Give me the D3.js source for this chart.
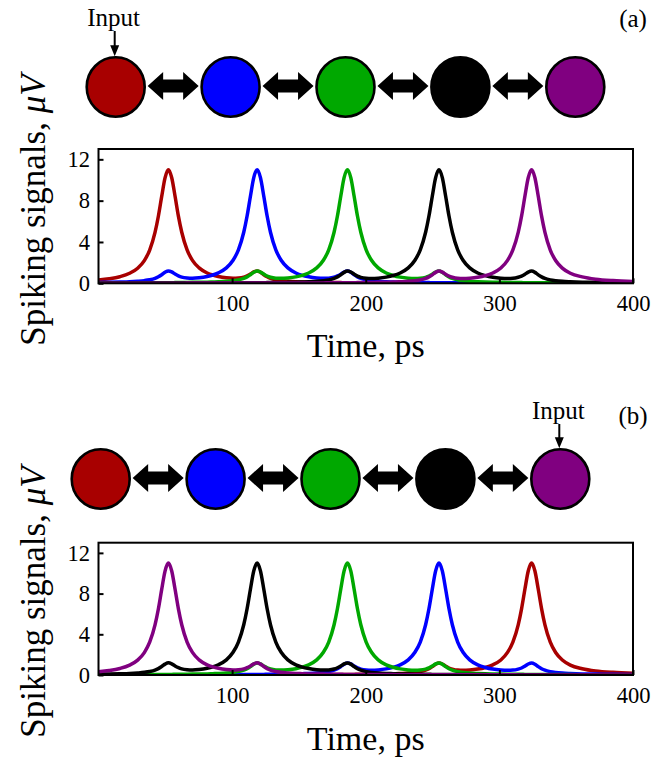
<!DOCTYPE html>
<html>
<head>
<meta charset="utf-8">
<script src="https://cdn.jsdelivr.net/npm/d3@7"></script>
<style>
  html, body { margin: 0; padding: 0; background: #fff; }
  svg { display: block; }
  svg text { font-family: "Liberation Serif", "DejaVu Serif", serif; }
</style>
</head>
<body>
<svg id="fig" width="665" height="762"></svg>
<script>
// Sample times (ps), denser around each spike
const time = [0, 8, 16,
  23.3, 29.3, 34.3, 38.3, 42.3, 44.8, 47.3, 49.8, 52.3, 54.8, 57.3, 59.8, 62.3, 66.3, 70.3, 75.3, 81.3,
  85.5,
  89.7, 95.7, 100.7, 104.7, 108.7, 111.2, 113.7, 116.2, 118.7, 121.2, 123.7, 126.2, 128.7, 132.7, 136.7, 141.7, 147.7,
  152.5,
  157.3, 163.3, 168.3, 172.3, 176.3, 178.8, 181.3, 183.8, 186.3, 188.8, 191.3, 193.8, 196.3, 200.3, 204.3, 209.3, 215.3,
  220.5,
  225.8, 231.8, 236.8, 240.8, 244.8, 247.3, 249.8, 252.3, 254.8, 257.3, 259.8, 262.3, 264.8, 268.8, 272.8, 277.8, 283.8,
  289.5,
  295.1, 301.1, 306.1, 310.1, 314.1, 316.6, 319.1, 321.6, 324.1, 326.6, 329.1, 331.6, 334.1, 338.1, 342.1, 347.1, 353.1,
  362, 372, 385, 400];

// Spiking signal (uV) of each neuron, ordered by distance from the input neuron
const hop0 = [0.32, 0.44, 0.64,
  0.97, 1.46, 2.20, 3.22, 4.92, 6.49, 8.41, 10.21, 11.0, 10.22, 8.42, 6.50, 4.94, 3.24, 2.22, 1.49, 1.00,
  0.80,
  0.66, 0.54, 0.50, 0.52, 0.60, 0.72, 0.89, 1.10, 1.20, 1.07, 0.83, 0.63, 0.48, 0.34, 0.26, 0.20, 0.15,
  0.13,
  0.11, 0.10, 0.09, 0.08, 0.07, 0.07, 0.07, 0.06, 0.06, 0.06, 0.06, 0.06, 0.05, 0.05, 0.05, 0.04, 0.04,
  0.04,
  0.03, 0.03, 0.03, 0.03, 0.03, 0.03, 0.03, 0.03, 0.03, 0.02, 0.02, 0.02, 0.02, 0.02, 0.02, 0.02, 0.02,
  0.02,
  0.02, 0.02, 0.02, 0.02, 0.01, 0.01, 0.01, 0.01, 0.01, 0.01, 0.01, 0.01, 0.01, 0.01, 0.01, 0.01, 0.01,
  0.01, 0.01, 0.01, 0.01];

const hop1 = [0.08, 0.10, 0.12,
  0.15, 0.20, 0.26, 0.34, 0.48, 0.63, 0.83, 1.07, 1.20, 1.10, 0.89, 0.72, 0.60, 0.52, 0.50, 0.54, 0.66,
  0.80,
  1.01, 1.49, 2.23, 3.24, 4.94, 6.51, 8.43, 10.23, 11.0, 10.23, 8.43, 6.51, 4.94, 3.24, 2.23, 1.49, 1.00,
  0.77,
  0.63, 0.52, 0.48, 0.50, 0.59, 0.71, 0.88, 1.09, 1.19, 1.07, 0.83, 0.62, 0.48, 0.33, 0.25, 0.19, 0.15,
  0.13,
  0.11, 0.09, 0.08, 0.08, 0.07, 0.07, 0.06, 0.06, 0.06, 0.06, 0.05, 0.05, 0.05, 0.05, 0.05, 0.04, 0.04,
  0.04,
  0.03, 0.03, 0.03, 0.03, 0.03, 0.03, 0.02, 0.02, 0.02, 0.02, 0.02, 0.02, 0.02, 0.02, 0.02, 0.02, 0.02,
  0.02, 0.01, 0.01, 0.01];

const hop2 = [0.03, 0.03, 0.04,
  0.04, 0.04, 0.05, 0.05, 0.05, 0.05, 0.05, 0.06, 0.06, 0.06, 0.07, 0.07, 0.07, 0.08, 0.09, 0.10, 0.11,
  0.13,
  0.15, 0.19, 0.25, 0.33, 0.48, 0.62, 0.83, 1.07, 1.19, 1.09, 0.89, 0.71, 0.59, 0.50, 0.48, 0.52, 0.62,
  0.77,
  1.00, 1.49, 2.23, 3.24, 4.94, 6.51, 8.43, 10.23, 11.0, 10.23, 8.43, 6.51, 4.94, 3.24, 2.23, 1.49, 1.00,
  0.76,
  0.60, 0.50, 0.47, 0.49, 0.58, 0.70, 0.88, 1.09, 1.19, 1.06, 0.82, 0.62, 0.47, 0.33, 0.25, 0.19, 0.15,
  0.12,
  0.10, 0.09, 0.08, 0.07, 0.07, 0.07, 0.06, 0.06, 0.06, 0.06, 0.05, 0.05, 0.05, 0.05, 0.04, 0.04, 0.04,
  0.03, 0.03, 0.03, 0.02];

const hop3 = [0.01, 0.02, 0.02,
  0.02, 0.02, 0.02, 0.02, 0.02, 0.02, 0.02, 0.02, 0.02, 0.02, 0.02, 0.03, 0.03, 0.03, 0.03, 0.03, 0.03,
  0.04,
  0.04, 0.04, 0.04, 0.05, 0.05, 0.05, 0.05, 0.06, 0.06, 0.06, 0.06, 0.07, 0.07, 0.08, 0.08, 0.09, 0.11,
  0.13,
  0.15, 0.19, 0.25, 0.33, 0.47, 0.62, 0.83, 1.06, 1.19, 1.09, 0.88, 0.70, 0.58, 0.49, 0.47, 0.50, 0.60,
  0.75,
  1.00, 1.49, 2.23, 3.24, 4.94, 6.51, 8.43, 10.23, 11.0, 10.23, 8.43, 6.51, 4.94, 3.24, 2.23, 1.49, 1.00,
  0.74,
  0.58, 0.49, 0.46, 0.48, 0.58, 0.69, 0.87, 1.08, 1.18, 1.06, 0.82, 0.62, 0.47, 0.33, 0.25, 0.19, 0.15,
  0.11, 0.09, 0.07, 0.05];

const hop4 = [0.01, 0.01, 0.01,
  0.01, 0.01, 0.01, 0.01, 0.01, 0.01, 0.01, 0.01, 0.01, 0.01, 0.01, 0.01, 0.01, 0.02, 0.02, 0.02, 0.02,
  0.02,
  0.02, 0.02, 0.02, 0.02, 0.02, 0.02, 0.02, 0.02, 0.02, 0.02, 0.02, 0.02, 0.02, 0.03, 0.03, 0.03, 0.03,
  0.03,
  0.04, 0.04, 0.04, 0.05, 0.05, 0.05, 0.05, 0.05, 0.06, 0.06, 0.06, 0.07, 0.07, 0.07, 0.08, 0.09, 0.11,
  0.12,
  0.15, 0.19, 0.25, 0.33, 0.47, 0.62, 0.82, 1.06, 1.18, 1.08, 0.87, 0.69, 0.58, 0.48, 0.46, 0.49, 0.58,
  0.74,
  1.00, 1.48, 2.22, 3.23, 4.93, 6.50, 8.42, 10.22, 11.0, 10.22, 8.42, 6.50, 4.93, 3.22, 2.21, 1.47, 0.97,
  0.62, 0.40, 0.26, 0.18];

const signals = [hop0, hop1, hop2, hop3, hop4];

// Neurons of the chain, left to right
const neurons = ["n1", "n2", "n3", "n4", "n5"];
const neuronColors = ["#a80000", "#0000ff", "#00a800", "#000000", "#800080"];

const xTicks = [100, 200, 300, 400];
const yTicks = [0, 4, 8, 12];
const xDomain = [0, 400];
const yDomain = [0, 13];

const panels = [
  { tag: "(a)", input: 0, chainY: 87,  chainLeft: 115.7, tagY: 27,  inputY: 26,
    top: 149,   bottom: 283.3, titleY: 357, ylabelY: 210 },
  { tag: "(b)", input: 4, chainY: 479, chainLeft: 100.7, tagY: 424, inputY: 419,
    top: 542.7, bottom: 675,   titleY: 750, ylabelY: 602 }
];

const svg = d3.select("#fig");
svg.append("rect").attr("width", 665).attr("height", 762).attr("fill", "#fff");

const plotLeft = 98.5, plotRight = 633;

panels.forEach((p, pi) => {
  const g = svg.append("g");

  // ---- chain of coupled neurons ----
  const spacing = 114.9;
  const cx = d3.scalePoint().domain(neurons).range([p.chainLeft, p.chainLeft + spacing * 4]);
  const rx = 29, ry = 29.7;

  // double-headed coupling arrows
  const L = 51, hl = 15.5, sw = 13, hh = 28;
  const arrowPts = [[-L/2, 0], [-L/2 + hl, -hh/2], [-L/2 + hl, -sw/2], [L/2 - hl, -sw/2], [L/2 - hl, -hh/2],
                    [L/2, 0], [L/2 - hl, hh/2], [L/2 - hl, sw/2], [-L/2 + hl, sw/2], [-L/2 + hl, hh/2]];
  for (let i = 0; i < neurons.length - 1; i++) {
    const mx = (cx(neurons[i]) + cx(neurons[i + 1])) / 2;
    g.append("polygon")
      .attr("points", arrowPts.map(d => [mx + d[0], p.chainY - 1 + d[1]].join(",")).join(" "))
      .attr("fill", "#000");
  }

  g.selectAll("ellipse.neuron").data(neurons).join("ellipse")
    .attr("class", "neuron")
    .attr("cx", d => cx(d)).attr("cy", p.chainY)
    .attr("rx", rx).attr("ry", ry)
    .attr("fill", (d, i) => neuronColors[i])
    .attr("stroke", "#000").attr("stroke-width", 2.6);

  // input marker
  const ix = cx(neurons[p.input]) - 1;
  const tipY = p.chainY - ry - 1;
  g.append("line").attr("x1", ix).attr("x2", ix).attr("y1", p.inputY + 5).attr("y2", tipY - 8)
    .attr("stroke", "#000").attr("stroke-width", 2);
  g.append("polygon")
    .attr("points", [[ix - 4.5, tipY - 11], [ix + 4.5, tipY - 11], [ix, tipY]].map(d => d.join(",")).join(" "))
    .attr("fill", "#000");
  g.append("text").attr("x", ix - 1).attr("y", p.inputY)
    .attr("text-anchor", "middle").style("font-size", "25px")
    .text("Input");

  g.append("text").attr("x", 633).attr("y", p.tagY)
    .attr("text-anchor", "middle").style("font-size", "25px")
    .text(p.tag);

  // ---- signals plot ----
  const x = d3.scaleLinear().domain(xDomain).range([plotLeft, plotRight]);
  const y = d3.scaleLinear().domain(yDomain).range([p.bottom, p.top]);

  const clipId = "clip" + pi;
  svg.append("clipPath").attr("id", clipId)
    .append("rect").attr("x", plotLeft).attr("y", p.top).attr("width", plotRight - plotLeft).attr("height", p.bottom - p.top);

  const line = d3.line()
    .x((d, i) => x(time[i]))
    .y(d => y(d))
    .curve(d3.curveMonotoneX);

  const traces = g.append("g").attr("clip-path", `url(#${clipId})`);
  neurons.forEach((n, i) => {
    const series = signals[Math.abs(i - p.input)];
    traces.append("path")
      .attr("d", line(series))
      .attr("fill", "none")
      .attr("stroke", neuronColors[i])
      .attr("stroke-width", 3.5)
      .attr("stroke-linejoin", "round");
  });

  // frame
  g.append("rect")
    .attr("x", plotLeft).attr("y", p.top)
    .attr("width", plotRight - plotLeft).attr("height", p.bottom - p.top)
    .attr("fill", "none").attr("stroke", "#000").attr("stroke-width", 2);

  // axes with inward ticks
  const xAxis = g.append("g").attr("transform", `translate(0,${p.bottom})`)
    .call(d3.axisBottom(x).tickValues(xTicks).tickSize(-5).tickPadding(12).tickFormat(d3.format("d")));
  const yAxis = g.append("g").attr("transform", `translate(${plotLeft},0)`)
    .call(d3.axisLeft(y).tickValues(yTicks).tickSize(-5).tickPadding(8.5).tickFormat(d3.format("d")));
  [xAxis, yAxis].forEach(a => {
    a.attr("font-family", null).attr("font-size", null);
    a.select(".domain").remove();
    a.selectAll(".tick line").attr("stroke", "#000").attr("stroke-width", 2);
    a.selectAll("text").style("font-size", "22.5px").attr("fill", "#000");
  });

  // axis titles
  g.append("text")
    .attr("x", (plotLeft + plotRight) / 2).attr("y", p.titleY)
    .attr("text-anchor", "middle").style("font-size", "34px")
    .text("Time, ps");

  const yl = g.append("text")
    .attr("transform", `translate(45,${p.ylabelY}) rotate(-90)`)
    .attr("text-anchor", "middle").style("font-size", "35px");
  yl.append("tspan").text("Spiking signals, ");
  yl.append("tspan").style("font-style", "italic").text("\u03BCV");
});
</script>
</body>
</html>
